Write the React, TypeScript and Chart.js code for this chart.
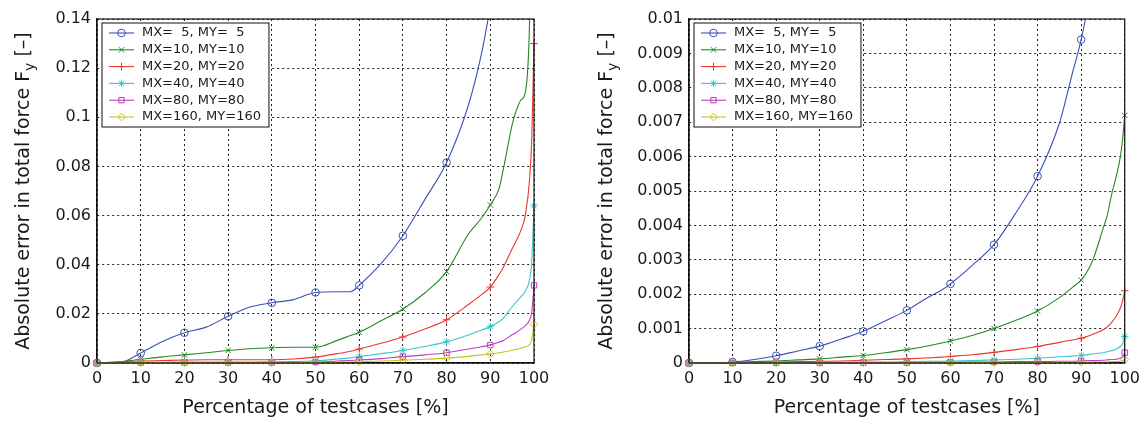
import React, { useEffect, useRef } from "react";
import { Chart, registerables } from "chart.js";
import { drawPoint } from "chart.js/helpers";

Chart.register(...registerables);

// ---------------- data ----------------
const X_PCT = [0, 5, 10, 15, 20, 25, 30, 35, 40, 45, 50, 55, 58, 60, 65, 70, 75, 80, 85, 88, 90, 92, 93, 95, 96, 97, 98, 99, 99.5, 100];

const SERIES_LABELS = ["MX=  5, MY=  5", "MX=10, MY=10", "MX=20, MY=20", "MX=40, MY=40", "MX=80, MY=80", "MX=160, MY=160"];
const SERIES_COLORS = ["#3a52b4", "#238a23", "#e8392e", "#40c6c6", "#c03cc0", "#c6c61e"];
const SERIES_MARKERS = ["circle", "crossRot", "cross", "star", "rect", "rectRot"];

// left panel
const LEFT_MX5 = [0, 0, 0.0041, 0.0088, 0.0123, 0.0146, 0.019, 0.0228, 0.0245, 0.0258, 0.0287, 0.029, 0.029, 0.0316, 0.0404, 0.0518, 0.0665, 0.0816, 0.105, 0.126, 0.145, 0.165, 0.18, 0.21, 0.23, 0.26, 0.3, 0.36, 0.42, 0.5];
const LEFT_MX10 = [0, 0.0005, 0.0015, 0.0025, 0.0033, 0.0042, 0.0051, 0.0058, 0.0062, 0.0064, 0.0064, 0.0092, 0.0112, 0.0125, 0.0172, 0.022, 0.0285, 0.0372, 0.0525, 0.059, 0.0643, 0.071, 0.079, 0.097, 0.103, 0.107, 0.11, 0.14, 0.2, 0.3];
const LEFT_MX20 = [0, 0.0005, 0.0008, 0.001, 0.0012, 0.0013, 0.0013, 0.0013, 0.0013, 0.0016, 0.0024, 0.0038, 0.0048, 0.0057, 0.008, 0.0106, 0.0138, 0.0176, 0.0238, 0.0278, 0.0309, 0.036, 0.039, 0.0465, 0.05, 0.054, 0.06, 0.075, 0.092, 0.13];
const LEFT_MX40 = [0, 0.0002, 0.0003, 0.0003, 0.0004, 0.0004, 0.0004, 0.0004, 0.0005, 0.0006, 0.0009, 0.0016, 0.0021, 0.0026, 0.0038, 0.0051, 0.0067, 0.0086, 0.0114, 0.0134, 0.0148, 0.0168, 0.0183, 0.0229, 0.025, 0.027, 0.0292, 0.034, 0.042, 0.064];
const LEFT_MX80 = [0, 0.0001, 0.0002, 0.0002, 0.0002, 0.0002, 0.0002, 0.0002, 0.0002, 0.0003, 0.0004, 0.0008, 0.001, 0.0012, 0.0018, 0.0026, 0.0033, 0.0042, 0.0057, 0.0066, 0.0073, 0.0085, 0.0092, 0.0115, 0.0125, 0.0138, 0.0152, 0.0175, 0.021, 0.0316];
const LEFT_MX160 = [0, 0.0001, 0.0001, 0.0001, 0.0001, 0.0001, 0.0001, 0.0001, 0.0001, 0.0001, 0.0002, 0.0003, 0.0004, 0.0005, 0.0008, 0.0011, 0.0015, 0.002, 0.0027, 0.0033, 0.0037, 0.0042, 0.0045, 0.0052, 0.0056, 0.006, 0.0066, 0.0075, 0.0095, 0.0157];

// right panel
const RIGHT_MX5 = [0, 0, 0.00003, 0.0001, 0.00021, 0.00035, 0.00049, 0.0007, 0.00092, 0.00122, 0.00153, 0.00192, 0.00212, 0.0023, 0.00284, 0.00344, 0.00436, 0.00543, 0.00697, 0.00843, 0.0094, 0.0107, 0.0115, 0.0135, 0.015, 0.017, 0.02, 0.025, 0.03, 0.04];
const RIGHT_MX10 = [0, 0, 0.00002, 0.00004, 0.00006, 0.00009, 0.00012, 0.00017, 0.00022, 0.0003, 0.00039, 0.0005, 0.00058, 0.00064, 0.0008, 0.001, 0.00124, 0.00151, 0.0019, 0.0022, 0.00241, 0.0028, 0.0031, 0.0039, 0.0043, 0.0049, 0.0054, 0.006, 0.0065, 0.0072];
const RIGHT_MX20 = [0, 0, 0.00001, 0.00002, 0.00003, 0.00004, 0.00005, 0.00006, 0.00008, 0.0001, 0.00012, 0.00015, 0.00017, 0.00019, 0.00024, 0.00031, 0.00039, 0.00048, 0.0006, 0.00067, 0.00072, 0.0008, 0.00085, 0.00096, 0.00105, 0.00118, 0.00135, 0.0016, 0.0018, 0.0021];
const RIGHT_MX40 = [0, 0, 0.000005, 0.00001, 0.00001, 0.00001, 0.00002, 0.00002, 0.00003, 0.00003, 0.00004, 0.00005, 0.00005, 0.00006, 0.00007, 0.00009, 0.00011, 0.00014, 0.00018, 0.0002, 0.00022, 0.00025, 0.00027, 0.0003, 0.00033, 0.00036, 0.0004, 0.00048, 0.00056, 0.00077];
const RIGHT_MX80 = [0, 0, 0, 0, 0.000005, 0.000005, 0.000005, 0.00001, 0.00001, 0.00001, 0.00001, 0.00002, 0.00002, 0.00002, 0.00003, 0.00003, 0.00004, 0.00004, 0.00005, 0.00005, 0.00006, 0.00007, 0.00007, 0.00008, 0.00009, 0.0001, 0.00011, 0.00014, 0.00018, 0.0003];
const RIGHT_MX160 = [0, 0, 0, 0, 0, 0, 0, 0, 0, 0, 0.000005, 0.000005, 0.000005, 0.000005, 0.00001, 0.00001, 0.00001, 0.00001, 0.00002, 0.00002, 0.00002, 0.00002, 0.00003, 0.00003, 0.00003, 0.00004, 0.00004, 0.00005, 0.00007, 0.0001];

const LEFT_SERIES = [LEFT_MX5, LEFT_MX10, LEFT_MX20, LEFT_MX40, LEFT_MX80, LEFT_MX160];
const RIGHT_SERIES = [RIGHT_MX5, RIGHT_MX10, RIGHT_MX20, RIGHT_MX40, RIGHT_MX80, RIGHT_MX160];

const X_MIN = 0;
const X_MAX = 100;
const X_STEP = 10;
const LEFT_Y_MAX = 0.14;
const LEFT_Y_STEP = 0.02;
const RIGHT_Y_MAX = 0.01;
const RIGHT_Y_STEP = 0.001;

const X_TITLE = "Percentage of testcases [%]";
const Y_TITLE_MAIN = "Absolute error in total force F";
const Y_TITLE_SUB = "y";
const Y_TITLE_TAIL = " [\u2013]";

// ---------------- styling ----------------
const FONT = '"DejaVu Sans", "Liberation Sans", sans-serif';
const TEXT_COLOR = "#1a1a1a";
const GRID_COLOR = "#222";
const MARKER_RADIUS = 3.8;

const framePlugin = {
  id: "frameBox",
  afterDatasetsDraw(chart: any) {
    const { ctx, chartArea: a } = chart;
    ctx.save();
    ctx.strokeStyle = "#111";
    ctx.lineWidth = 1.2;
    ctx.setLineDash([]);
    ctx.strokeRect(a.left, a.top, a.right - a.left, a.bottom - a.top);
    ctx.restore();
  },
};

const legendBoxPlugin = {
  id: "legendBox",
  afterDraw(chart: any) {
    const { ctx, chartArea: a } = chart;
    const fx = a.left + 5;
    const fy = a.top + 4;
    const rowH = 16.8;
    const firstCy = a.top + 14;
    ctx.save();
    ctx.font = `13px ${FONT}`;
    let maxW = 0;
    chart.data.datasets.forEach((d: any) => {
      maxW = Math.max(maxW, ctx.measureText(d.label).width);
    });
    const fw = 40 + maxW + 8;
    const fh = (chart.data.datasets.length - 1) * rowH + 20;
    ctx.fillStyle = "#fff";
    ctx.fillRect(fx, fy, fw, fh);
    ctx.strokeStyle = "#111";
    ctx.lineWidth = 1;
    ctx.strokeRect(fx, fy, fw, fh);
    chart.data.datasets.forEach((d: any, i: number) => {
      const cy = firstCy + i * rowH;
      ctx.strokeStyle = d.borderColor;
      ctx.lineWidth = 1.1;
      ctx.beginPath();
      ctx.moveTo(fx + 7, cy);
      ctx.lineTo(fx + 32, cy);
      ctx.stroke();
      ctx.fillStyle = "rgba(0,0,0,0)";
      ctx.lineWidth = 1;
      drawPoint(ctx, { pointStyle: d.pointStyle, rotation: 0, radius: MARKER_RADIUS, borderWidth: 1 } as any, fx + 19.5, cy);
      ctx.fillStyle = TEXT_COLOR;
      ctx.textAlign = "left";
      ctx.textBaseline = "middle";
      ctx.fillText(d.label, fx + 40, cy);
    });
    ctx.restore();
  },
};

function makeYTitlePlugin(baselineX: number) {
  return {
    id: "yTitle",
    afterDraw(chart: any) {
      const { ctx, chartArea: a } = chart;
      const cy = (a.top + a.bottom) / 2;
      ctx.save();
      ctx.fillStyle = TEXT_COLOR;
      ctx.textBaseline = "alphabetic";
      ctx.textAlign = "left";
      const big = `19px ${FONT}`;
      const small = `14px ${FONT}`;
      ctx.font = big;
      const w1 = ctx.measureText(Y_TITLE_MAIN).width;
      const w3 = ctx.measureText(Y_TITLE_TAIL).width;
      ctx.font = small;
      const w2 = ctx.measureText(Y_TITLE_SUB).width;
      const total = w1 + w2 + w3;
      ctx.translate(baselineX, cy);
      ctx.rotate(-Math.PI / 2);
      let x = -total / 2;
      ctx.font = big;
      ctx.fillText(Y_TITLE_MAIN, x, 0);
      x += w1;
      ctx.font = small;
      ctx.fillText(Y_TITLE_SUB, x, 5);
      x += w2;
      ctx.font = big;
      ctx.fillText(Y_TITLE_TAIL, x, 0);
      ctx.restore();
    },
  };
}

const fmt = (v: any) => String(+Number(v).toFixed(6));

function buildConfig(series: number[][], yMax: number, yStep: number, yWidth: number, padRight: number, titleX: number): any {
  const datasets = series.map((vals, i) => ({
    label: SERIES_LABELS[i],
    data: X_PCT.map((x, j) => ({ x, y: vals[j] })),
    borderColor: SERIES_COLORS[i],
    backgroundColor: "rgba(0,0,0,0)",
    borderWidth: 1.1,
    pointStyle: SERIES_MARKERS[i],
    pointRadius: (c: any) => (X_PCT[c.dataIndex] % 10 === 0 ? MARKER_RADIUS : 0),
    pointHoverRadius: 0,
    pointBorderColor: SERIES_COLORS[i],
    pointBackgroundColor: "rgba(0,0,0,0)",
    pointBorderWidth: 1,
    cubicInterpolationMode: "monotone",
    fill: false,
    order: series.length - i,
    clip: { left: 6, top: 0, right: 6, bottom: 6 },
  }));
  const gridCommon = { color: GRID_COLOR, lineWidth: 1, drawTicks: false };
  const borderCommon = { display: true, color: "#111", width: 1.2, dash: [2, 3] };
  return {
    type: "line",
    data: { datasets },
    options: {
      responsive: false,
      animation: false,
      events: [],
      layout: { padding: { left: 0, top: 19, right: padRight, bottom: 0 } },
      plugins: { legend: { display: false }, tooltip: { enabled: false }, title: { display: false } },
      scales: {
        x: {
          type: "linear",
          min: X_MIN,
          max: X_MAX,
          ticks: { stepSize: X_STEP, font: { family: FONT, size: 16 }, color: TEXT_COLOR, padding: 6, maxRotation: 0, autoSkip: false, callback: fmt },
          grid: gridCommon,
          border: borderCommon,
          title: { display: true, text: X_TITLE, font: { family: FONT, size: 19 }, color: TEXT_COLOR, padding: { top: 4, bottom: 5.6 } },
          afterFit: (s: any) => {
            s.height = 62;
          },
        },
        y: {
          type: "linear",
          min: 0,
          max: yMax,
          ticks: { stepSize: yStep, font: { family: FONT, size: 16 }, color: TEXT_COLOR, padding: 6, autoSkip: false, callback: fmt },
          grid: gridCommon,
          border: borderCommon,
          afterFit: (s: any) => {
            s.width = yWidth;
          },
        },
      },
    },
    plugins: [framePlugin, legendBoxPlugin, makeYTitlePlugin(titleX)],
  };
}

function Panel(props: { series: number[][]; yMax: number; yStep: number; yWidth: number; padRight: number; titleX: number }) {
  const ref = useRef<HTMLCanvasElement | null>(null);
  useEffect(() => {
    if (!ref.current) return;
    const chart = new Chart(ref.current, buildConfig(props.series, props.yMax, props.yStep, props.yWidth, props.padRight, props.titleX));
    return () => chart.destroy();
  }, []);
  return (
    <div style={{ width: 573, height: 425, position: "relative" }}>
      <canvas ref={ref} width={573} height={425} style={{ display: "block" }} />
    </div>
  );
}

export default function App() {
  return (
    <div style={{ position: "absolute", left: 0, top: 0, width: 1146, height: 425, display: "flex", background: "#fff" }}>
      <Panel series={LEFT_SERIES} yMax={LEFT_Y_MAX} yStep={LEFT_Y_STEP} yWidth={97} padRight={39} titleX={29} />
      <Panel series={RIGHT_SERIES} yMax={RIGHT_Y_MAX} yStep={RIGHT_Y_STEP} yWidth={116} padRight={19} titleX={39} />
    </div>
  );
}
